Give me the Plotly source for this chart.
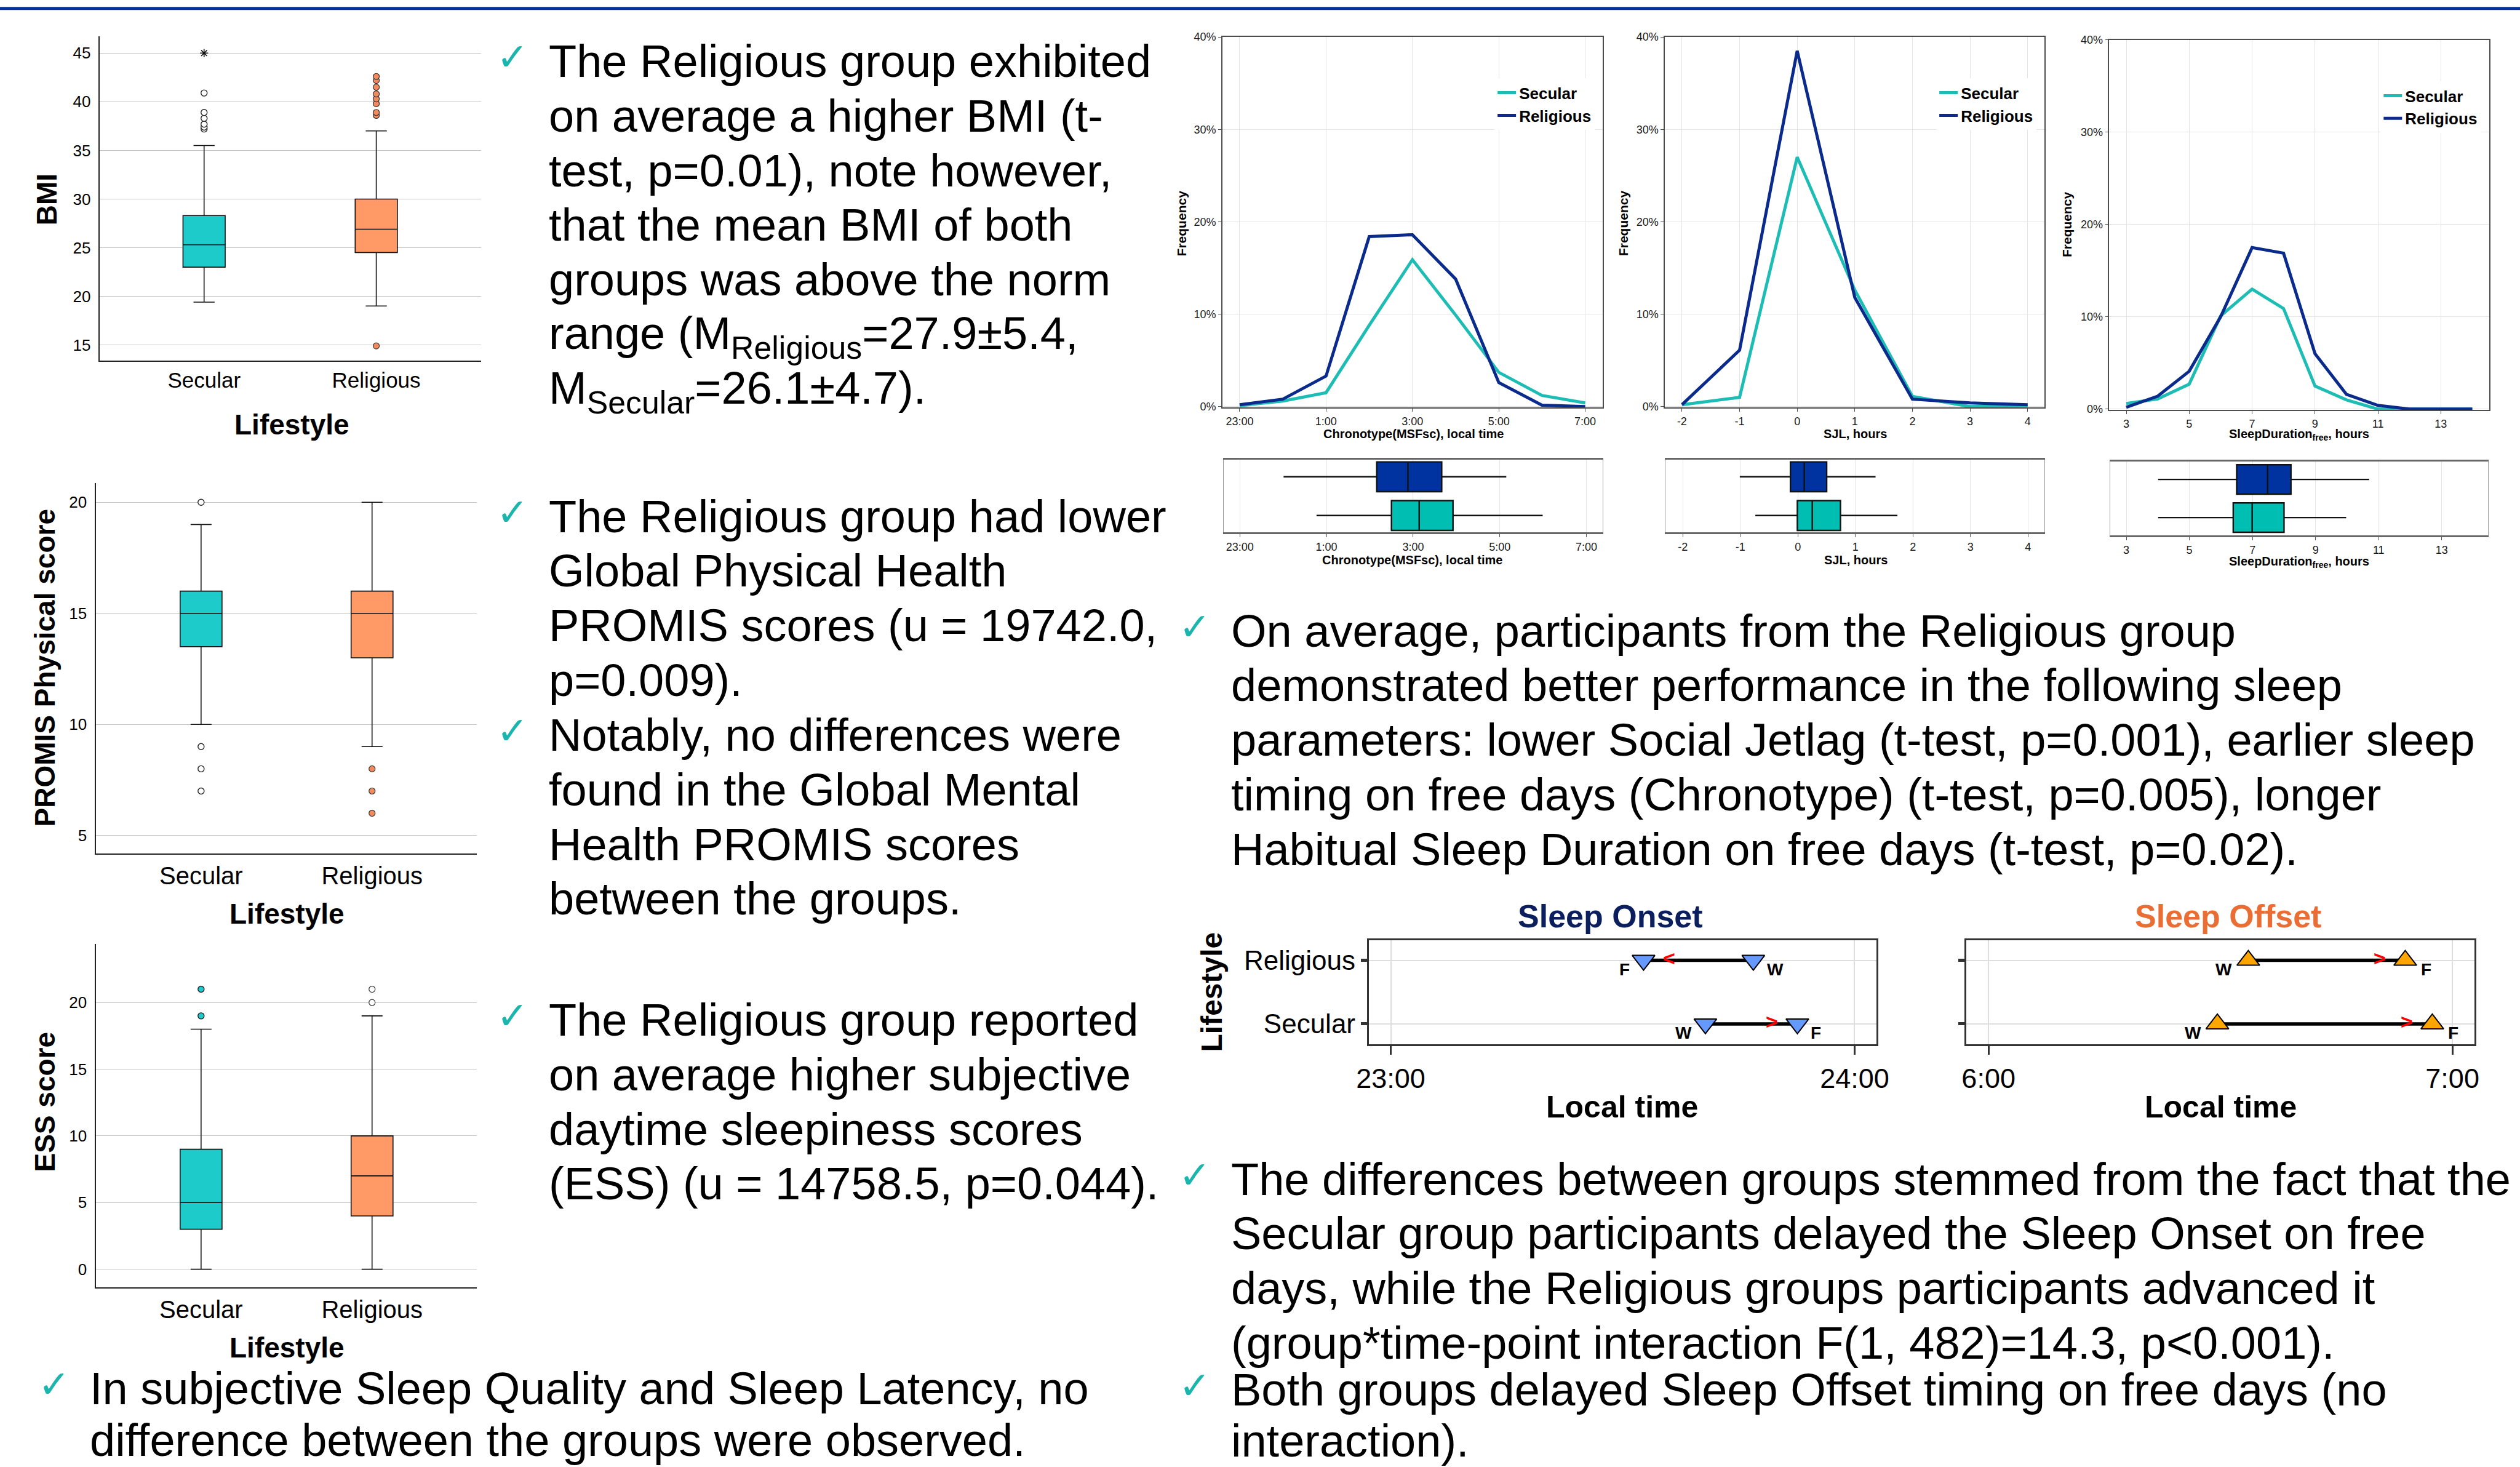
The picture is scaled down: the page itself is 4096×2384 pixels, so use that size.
import plotly.graph_objects as go

# ---------------------------------------------------------------- geometry helpers
REF_W, REF_H = 5927.0, 3449.0
OUT_W, OUT_H = 4096, 2384
FONT = "Liberation Sans, Arial, Helvetica, sans-serif"


def fx(x):
    return x / REF_W


def fy(y):
    return 1 - y / REF_H


# ---------------------------------------------------------------- data
lifestyle = ["Secular", "Religious"]

# BMI box plot  (order: Secular, Religious)
bmi_q1 = [23.0, 24.5]
bmi_median = [25.3, 26.9]
bmi_q3 = [28.3, 30.0]
bmi_lower = [19.4, 19.0]
bmi_upper = [35.5, 37.0]
bmi_ticks = [15, 20, 25, 30, 35, 40, 45]
bmi_outliers_secular = [37.2, 37.4, 37.7, 38.3, 38.9, 40.9]
bmi_extreme_secular = [45.0]
bmi_outliers_religious = [14.9, 38.6, 38.9, 39.8, 40.3, 40.8, 41.5, 42.2, 42.6]

# PROMIS physical score box plot
promis_q1 = [13.5, 13.0]
promis_median = [15.0, 15.0]
promis_q3 = [16.0, 16.0]
promis_lower = [10.0, 9.0]
promis_upper = [19.0, 20.0]
promis_ticks = [5, 10, 15, 20]
promis_outliers_secular = [7, 8, 9, 20]
promis_outliers_religious = [6, 7, 8]

# ESS score box plot
ess_q1 = [3, 4]
ess_median = [5, 7]
ess_q3 = [9, 10]
ess_lower = [0, 0]
ess_upper = [18, 19]
ess_ticks = [0, 5, 10, 15, 20]
ess_outliers_secular = [19, 21]
ess_outliers_religious = [20, 21]

# frequency distributions (%)
freq_ticks = [0, 10, 20, 30, 40]
freq_ticktext = ["0%", "10%", "20%", "30%", "40%"]

chrono_hours = [0, 1, 2, 3, 4, 5, 6, 7, 8]          # hours after 23:00
chrono_ticks = [0, 2, 4, 6, 8]
chrono_ticktext = ["23:00", "1:00", "3:00", "5:00", "7:00"]
chrono_secular = [0.1, 0.6, 1.5, 8.8, 15.9, 9.9, 3.7, 1.2, 0.4]
chrono_religious = [0.2, 0.8, 3.3, 18.4, 18.6, 13.8, 2.6, 0.15, 0.0]

sjl_hours = [-2, -1, 0, 1, 2, 3, 4]
sjl_ticks = [-2, -1, 0, 1, 2, 3, 4]
sjl_secular = [0.2, 1.0, 27.0, 12.6, 1.1, 0.0, 0.1]
sjl_religious = [0.2, 6.1, 38.5, 11.8, 0.8, 0.4, 0.2]

sd_hours = [3, 4, 5, 6, 7, 8, 9, 10, 11, 12, 13, 14]
sd_ticks = [3, 5, 7, 9, 11, 13]
sd_secular = [0.6, 1.1, 2.7, 10.1, 13.0, 10.9, 2.5, 1.0, 0.0, 0.0, 0.0, 0.0]
sd_religious = [0.2, 1.4, 4.1, 10.0, 17.5, 16.9, 6.0, 1.6, 0.4, 0.0, 0.0, 0.0]

# summary boxes under the distributions (order: Secular, Religious)
chrono_box_q1 = [3.50, 3.16]
chrono_box_median = [4.14, 3.88]
chrono_box_q3 = [4.92, 4.66]
chrono_box_lower = [1.77, 1.01]
chrono_box_upper = [6.99, 6.15]

sjl_box_q1 = [-0.01, -0.13]
sjl_box_median = [0.25, 0.11]
sjl_box_q3 = [0.74, 0.50]
sjl_box_lower = [-0.74, -1.01]
sjl_box_upper = [1.73, 1.35]

sd_box_q1 = [6.39, 6.50]
sd_box_median = [6.99, 7.48]
sd_box_q3 = [8.00, 8.22]
sd_box_lower = [4.01, 4.01]
sd_box_upper = [9.97, 10.70]

# sleep onset (minutes after 23:00) and offset (minutes after 6:00), order: Secular, Religious
onset_workday = [40.7, 46.9]
onset_freeday = [52.6, 32.7]
onset_ticks = [0, 60]
onset_ticktext = ["23:00", "24:00"]
offset_workday = [29.6, 33.6]
offset_freeday = [57.4, 53.9]
offset_ticks = [0, 60]
offset_ticktext = ["6:00", "7:00"]

# ---------------------------------------------------------------- colours
SEC_BOX = "#1dcbcb"
REL_BOX = "#ff9966"
REL_OUT = "#f48a5c"
SEC_LINE = "#1dbdb5"
REL_LINE = "#0b2b8c"
SEC_SUM = "#00bfb2"
REL_SUM = "#0033a0"
CHECK = "#1ab5ad"
ONSET_FILL = "#6699ff"
OFFSET_FILL = "#ffa500"

fig = go.Figure()
layout = dict(
    width=OUT_W, height=OUT_H, autosize=False,
    margin=dict(l=0, r=0, t=0, b=0, pad=0, autoexpand=False),
    paper_bgcolor="white", plot_bgcolor="white",
    font=dict(family=FONT, color="black"),
    showlegend=True,
)


def names(i):
    if i == 1:
        return "x", "y", "xaxis", "yaxis"
    return f"x{i}", f"y{i}", f"xaxis{i}", f"yaxis{i}"


def set_axes(i, xdom, ydom, xa, ya):
    xn, yn, xk, yk = names(i)
    xa = dict(xa)
    ya = dict(ya)
    xa.update(domain=[fx(xdom[0]), fx(xdom[1])], anchor=yn, zeroline=False, automargin=False)
    ya.update(domain=[fy(ydom[1]), fy(ydom[0])], anchor=xn, zeroline=False, automargin=False)
    layout[xk] = xa
    layout[yk] = ya


annotations = []


def text_ann(x, y, txt, size, bold=False, color="black", angle=0, xanchor="center",
             family=FONT):
    annotations.append(dict(
        x=fx(x), y=fy(y), xref="paper", yref="paper", text=(f"<b>{txt}</b>" if bold else txt),
        showarrow=False, xanchor=xanchor, yanchor="middle", textangle=angle,
        font=dict(family=family, size=size, color=color)))


# ---------------------------------------------------------------- left box plots
def main_box(i, xdom, ydom, xrange, yrange, ticks, cat_size, q1, med, q3, lo, hi,
             out_sec, out_rel, sec_filled=False, rel_filled=True, extreme=None):
    xn, yn, _, _ = names(i)
    fills = [SEC_BOX, REL_BOX]
    for g in range(2):
        fig.add_trace(go.Box(
            x=[g], q1=[q1[g]], median=[med[g]], q3=[q3[g]],
            lowerfence=[lo[g]], upperfence=[hi[g]], orientation="v",
            width=0.245, whiskerwidth=0.5, fillcolor=fills[g],
            line=dict(color="#111111", width=1.6), boxpoints=False,
            xaxis=xn, yaxis=yn, showlegend=False, hoverinfo="skip"))
    fig.add_trace(go.Scatter(
        x=[0] * len(out_sec), y=out_sec, mode="markers", xaxis=xn, yaxis=yn,
        marker=dict(size=10, color=SEC_BOX if sec_filled else "white",
                    line=dict(color="#222222", width=1.4)),
        showlegend=False, hoverinfo="skip"))
    fig.add_trace(go.Scatter(
        x=[1] * len(out_rel), y=out_rel, mode="markers", xaxis=xn, yaxis=yn,
        marker=dict(size=10, color=REL_OUT if rel_filled else "white",
                    line=dict(color="#333333", width=1.2)),
        showlegend=False, hoverinfo="skip"))
    if extreme:
        fig.add_trace(go.Scatter(
            x=[0] * len(extreme), y=extreme, mode="markers", xaxis=xn, yaxis=yn,
            marker=dict(size=11, symbol="asterisk-open", color="#111111",
                        line=dict(color="#111111", width=1.6)),
            showlegend=False, hoverinfo="skip"))
    set_axes(i, xdom, ydom,
             dict(range=xrange, tickvals=[0, 1], ticktext=lifestyle, showgrid=False,
                  showline=True, linecolor="#222222", linewidth=1.6, ticks="",
                  tickfont=dict(size=cat_size, family=FONT)),
             dict(range=yrange, tickvals=ticks, showgrid=True, gridcolor="#c4c4c4",
                  gridwidth=1.3, showline=True, linecolor="#222222", linewidth=1.6,
                  ticks="", ticklabelstandoff=8, tickfont=dict(size=26, family=FONT)))


main_box(1, (235, 1132), (86, 848), [-0.605, 1.61], [13.38, 46.7], bmi_ticks, 35,
         bmi_q1, bmi_median, bmi_q3, bmi_lower, bmi_upper,
         bmi_outliers_secular, bmi_outliers_religious, extreme=bmi_extreme_secular)
main_box(2, (226, 1122), (1135, 2007), [-0.614, 1.614], [4.18, 20.88], promis_ticks, 40,
         promis_q1, promis_median, promis_q3, promis_lower, promis_upper,
         promis_outliers_secular, promis_outliers_religious)
main_box(3, (226, 1122), (2220, 3027), [-0.614, 1.614], [-1.37, 24.37], ess_ticks, 40,
         ess_q1, ess_median, ess_q3, ess_lower, ess_upper,
         ess_outliers_secular, ess_outliers_religious, sec_filled=True, rel_filled=False)

text_ann(110, 469, "BMI", 46, bold=True, angle=-90)
text_ann(686, 998, "Lifestyle", 46, bold=True)
text_ann(106, 1570, "PROMIS Physical score", 46, bold=True, angle=-90)
text_ann(675, 2149, "Lifestyle", 46, bold=True)
text_ann(106, 2590, "ESS score", 46, bold=True, angle=-90)
text_ann(675, 3168, "Lifestyle", 46, bold=True)

# ---------------------------------------------------------------- distributions
dist_axis_x = dict(showgrid=True, gridcolor="#e4e4e4", gridwidth=1.2, showline=True,
                   mirror=True, linecolor="#4d4d4d", linewidth=1.6, ticks="outside",
                   ticklen=5, tickcolor="#4d4d4d", tickwidth=1.4,
                   tickfont=dict(size=18, color="#1a1a1a"))
dist_axis_y = dict(dist_axis_x, range=[-0.1, 40], tickvals=freq_ticks, ticktext=freq_ticktext)


def dist_plot(i, xdom, ydom, xrange, xs, sec, rel, tickvals, ticktext, legend_name, legend_xy):
    xn, yn, _, _ = names(i)
    fig.add_trace(go.Scatter(x=xs, y=sec, mode="lines", name="Secular", legend=legend_name,
                             line=dict(color=SEC_LINE, width=5), xaxis=xn, yaxis=yn))
    fig.add_trace(go.Scatter(x=xs, y=rel, mode="lines", name="Religious", legend=legend_name,
                             line=dict(color=REL_LINE, width=5), xaxis=xn, yaxis=yn))
    set_axes(i, xdom, ydom,
             dict(dist_axis_x, range=xrange, tickvals=tickvals, ticktext=ticktext),
             dist_axis_y)
    layout[legend_name] = dict(
        x=fx(legend_xy[0]), y=fy(legend_xy[1]), xanchor="left", yanchor="top",
        bgcolor="white", borderwidth=0, tracegroupgap=0,
        font=dict(family=FONT, size=26, color="black", weight="bold"))


dist_plot(4, (2875, 3769), (87, 958), [-0.4, 8.4], chrono_hours, chrono_secular,
          chrono_religious, chrono_ticks, chrono_ticktext, "legend", (3515, 184))
dist_plot(5, (3916, 4809), (87, 958), [-2.295, 4.295], sjl_hours, sjl_secular,
          sjl_religious, sjl_ticks, [str(v) for v in sjl_ticks], "legend2", (4554, 184))
dist_plot(6, (4961, 5854), (94, 964), [2.46, 14.53], sd_hours, sd_secular,
          sd_religious, sd_ticks, [str(v) for v in sd_ticks], "legend3", (5599, 191))

for x, y in [(2779, 525), (3819, 525), (4862, 528)]:
    text_ann(x, y, "Frequency", 21, bold=True, angle=-90)
text_ann(3324, 1020, "Chronotype(MSFsc), local time", 20, bold=True)
text_ann(4364, 1020, "SJL, hours", 20, bold=True)
text_ann(5408, 1022, "SleepDuration<sub>free</sub>, hours", 20, bold=True)


# ---------------------------------------------------------------- summary boxes
def summary_box(i, xdom, ydom, xrange, yrange, q1, med, q3, lo, hi, tickvals, ticktext):
    xn, yn, _, _ = names(i)
    fills = [SEC_SUM, REL_SUM]
    for g in range(2):
        fig.add_trace(go.Box(
            y=[g], q1=[q1[g]], median=[med[g]], q3=[q3[g]],
            lowerfence=[lo[g]], upperfence=[hi[g]], orientation="h",
            width=0.77, whiskerwidth=0, fillcolor=fills[g],
            line=dict(color="#111111", width=2.4), boxpoints=False,
            xaxis=xn, yaxis=yn, showlegend=False, hoverinfo="skip"))
    set_axes(i, xdom, ydom,
             dict(range=xrange, tickvals=tickvals, ticktext=ticktext, showgrid=True,
                  gridcolor="#e6e6e6", gridwidth=1.2, showline=True, mirror=True,
                  linecolor="#666666", linewidth=2.5, ticks="outside", ticklen=5,
                  tickcolor="#555555", tickfont=dict(size=18, color="#1a1a1a")),
             dict(range=yrange, showticklabels=False, showgrid=False, showline=True,
                  mirror=True, linecolor="#9a9a9a", linewidth=1.2, ticks=""))


summary_box(7, (2878, 3769), (1080, 1252), [-0.373, 8.37], [-0.44, 1.45],
            chrono_box_q1, chrono_box_median, chrono_box_q3, chrono_box_lower,
            chrono_box_upper, chrono_ticks, chrono_ticktext)
summary_box(8, (3917, 4809), (1080, 1252), [-2.303, 4.289], [-0.44, 1.45],
            sjl_box_q1, sjl_box_median, sjl_box_q3, sjl_box_lower, sjl_box_upper,
            sjl_ticks, [str(v) for v in sjl_ticks])
summary_box(9, (4963, 5852), (1085, 1259), [2.488, 14.47], [-0.47, 1.47],
            sd_box_q1, sd_box_median, sd_box_q3, sd_box_lower, sd_box_upper,
            sd_ticks, [str(v) for v in sd_ticks])
text_ann(3322, 1317, "Chronotype(MSFsc), local time", 20, bold=True)
text_ann(4365, 1317, "SJL, hours", 20, bold=True)
text_ann(5407, 1322, "SleepDuration<sub>free</sub>, hours", 20, bold=True)


# ---------------------------------------------------------------- sleep onset / offset
def timing_plot(i, xdom, work, free, symbol, fill, tickvals, ticktext, show_labels, shift):
    xn, yn, _, _ = names(i)
    for g in range(2):
        fig.add_trace(go.Scatter(x=[work[g], free[g]], y=[g, g], mode="lines",
                                 line=dict(color="black", width=5.5), xaxis=xn, yaxis=yn,
                                 showlegend=False, hoverinfo="skip"))
    direction = [1 if free[g] > work[g] else -1 for g in range(2)]
    fig.add_trace(go.Scatter(
        x=[free[g] - 3.3 * direction[g] for g in range(2)], y=[0, 1], mode="text",
        text=["&gt;" if d > 0 else "&lt;" for d in direction],
        textfont=dict(family=FONT, size=34, color="#ff0000", weight="bold"),
        xaxis=xn, yaxis=yn, showlegend=False, hoverinfo="skip"))
    fig.add_trace(go.Scatter(
        x=list(work) + list(free), y=[0, 1, 0, 1], mode="markers",
        marker=dict(symbol=symbol, size=32, color=fill, line=dict(color="black", width=2)),
        xaxis=xn, yaxis=yn, showlegend=False, hoverinfo="skip"))
    for g in range(2):
        for val, other, lab in [(work[g], free[g], "W"), (free[g], work[g], "F")]:
            left = val < other
            annotations.append(dict(
                x=val, y=g, xref=xn, yref=yn, text=f"<b>{lab}</b>", showarrow=False,
                xanchor="right" if left else "left", yanchor="middle",
                xshift=-shift if left else shift, yshift=-15,
                font=dict(family=FONT, size=28, color="black")))
    set_axes(i, xdom, (2210, 2455),
             dict(range=[-2.86, 62.86], tickvals=tickvals, ticktext=ticktext, showgrid=True,
                  gridcolor="#dedede", gridwidth=2, showline=True, mirror=True,
                  linecolor="#333333", linewidth=3, ticks="outside", ticklen=14,
                  tickwidth=3, tickcolor="#333333", tickfont=dict(size=45, color="black")),
             dict(range=[-0.32, 1.32], tickvals=[0, 1], ticktext=lifestyle,
                  showticklabels=show_labels, showgrid=True, gridcolor="#dedede",
                  gridwidth=2, showline=True, mirror=True, linecolor="#333333", linewidth=2.5,
                  ticks="outside", ticklen=10, tickwidth=5, tickcolor="#333333",
                  tickfont=dict(size=44, color="black")))


timing_plot(10, (3219, 4414), onset_workday, onset_freeday, "triangle-down", ONSET_FILL,
            onset_ticks, onset_ticktext, True, 20)
timing_plot(11, (4625, 5820), offset_workday, offset_freeday, "triangle-up", OFFSET_FILL,
            offset_ticks, offset_ticktext, False, 24)

text_ann(3788, 2154, "Sleep Onset", 52, bold=True, color="#0b1f5e")
text_ann(5241, 2154, "Sleep Offset", 52, bold=True, color="#ea6e33")
text_ann(2850, 2332, "Lifestyle", 48, bold=True, angle=-90)
text_ann(3815, 2602, "Local time", 50, bold=True)
text_ann(5223, 2602, "Local time", 50, bold=True)

# ---------------------------------------------------------------- bullet texts
# (x of text start, y of first line, line step, lines) in reference pixels
blocks = [
    (1288, 144, 128.5, ["The Religious group exhibited",
                        "on average a higher BMI (t-",
                        "test, p=0.01), note however,",
                        "that the mean BMI of both",
                        "groups was above the norm",
                        "range (M<sub>Religious</sub>=27.9±5.4,",
                        "M<sub>Secular</sub>=26.1±4.7)."]),
    (1288, 1214, 128.5, ["The Religious group had lower",
                         "Global Physical Health",
                         "PROMIS scores (u = 19742.0,",
                         "p=0.009)."]),
    (1288, 1728, 128.5, ["Notably, no differences were",
                         "found in the Global Mental",
                         "Health PROMIS scores",
                         "between the groups."]),
    (1288, 2398, 128.5, ["The Religious group reported",
                         "on average higher subjective",
                         "daytime sleepiness scores",
                         "(ESS) (u = 14758.5, p=0.044)."]),
    (209, 3264, 122, ["In subjective Sleep Quality and Sleep Latency, no",
                      "difference between the groups were observed."]),
    (2892, 1483, 128.5, ["On average, participants from the Religious group",
                         "demonstrated better performance in the following sleep",
                         "parameters: lower Social Jetlag (t-test, p=0.001), earlier sleep",
                         "timing on free days (Chronotype) (t-test, p=0.005), longer",
                         "Habitual Sleep Duration on free days (t-test, p=0.02)."]),
    (2892, 2772, 128.5, ["The differences between groups stemmed from the fact that the",
                         "Secular group participants delayed the Sleep Onset on free",
                         "days, while the Religious groups participants advanced it",
                         "(group*time-point interaction F(1, 482)=14.3, p&lt;0.001)."]),
    (2892, 3267, 120, ["Both groups delayed Sleep Offset timing on free days (no",
                       "interaction)."]),
]
for x0, y0, step, lines in blocks:
    text_ann(x0 - 82, y0 - 10, "✓", 62, color=CHECK, family="DejaVu Sans")
    for k, line in enumerate(lines):
        yy = y0 + k * step + (5 if "<sub>" in line else 0)
        text_ann(x0, yy, line, 74, xanchor="left")

layout["annotations"] = annotations
layout["shapes"] = [dict(type="line", xref="paper", yref="paper", x0=0, x1=1,
                         y0=fy(20), y1=fy(20), line=dict(color="#0033a0", width=5))]
fig.update_layout(**layout)
fig.write_html("out.html", config={"displayModeBar": False},
               post_script="document.body.style.margin='0';document.body.style.padding='0';")
